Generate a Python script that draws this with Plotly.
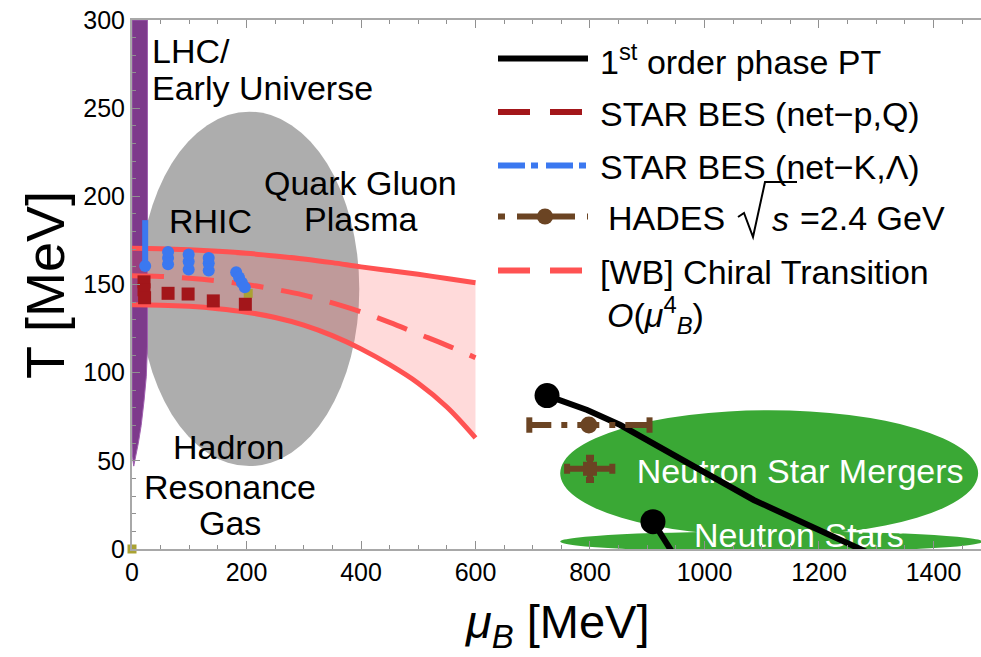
import plotly.graph_objects as go

# ---------------- data ----------------
# WB chiral transition band (muB in MeV, T in MeV)
wb_mu = [0, 50, 100, 150, 200, 250, 300, 350, 400, 450, 500, 550, 600]
wb_upper = [170.5, 170.3, 169.7, 168.8, 167.7, 166.2, 164.5, 162.4, 160.0, 157.9, 155.8, 153.4, 151.0]
wb_center = [155.0, 154.6, 153.5, 152.0, 150.0, 147.3, 144.0, 139.6, 134.5, 128.5, 122.0, 115.5, 108.5]
wb_lower = [138.5, 138.3, 137.6, 136.3, 134.3, 131.3, 127.0, 121.0, 113.5, 104.5, 94.0, 80.5, 63.0]

# LHC / early universe strip outline
lhc_mu = [0, 27, 27, 25, 21, 16, 11, 6, 3, 1, 0, 0]
lhc_T = [300, 300, 115, 98, 84, 70, 60, 52, 47, 52, 60, 300]

# regions (ellipses): [mu_min, mu_max, T_min, T_max]
qgp_ellipse = [13, 397, 47, 248]
nsm_ellipse = [748, 1478, 7.3, 78.7]
ns_ellipse = [748, 1485, -1.6, 10]

# region labels drawn inside the neutron-star ellipses (muB, T)
ns_labels = ["Neutron Star Mergers", "Neutron Stars"]
ns_label_mu = [1167, 1165]
ns_label_T = [42.5, 6.2]

# STAR BES (net-p, Q)
netp_mu = [21, 21, 22, 63, 98, 142, 198]
netp_T = [151.5, 147.0, 142.5, 145.0, 144.6, 140.7, 138.8]

# STAR BES (net-K, Lambda)
netk_mu = [23, 63, 63, 63, 99, 99, 99, 134, 134, 134, 182, 187, 192, 197]
netk_T = [160.5, 161.5, 165.0, 168.5, 158.5, 163.0, 167.0, 158.0, 162.0, 165.0, 157.0, 154.0, 151.0, 148.5]
netk_errp = [26, 0, 0, 0, 0, 0, 0, 0, 0, 0, 0, 0, 0, 0]

# other points (olive)
olive_mu = [0, 203]
olive_T = [0, 145]

# HADES sqrt(s)=2.4 GeV
hades_mu = [798, 800]
hades_T = [70.3, 45.5]
hades_mu_lo = [694, 760]
hades_mu_hi = [904, 839]
hades_T_err = [0, 6.3]

# 1st order phase transition lines
pt1_mu = [725, 795, 853, 958, 1086, 1200, 1285]
pt1_T = [87.0, 78.8, 70.3, 51.4, 27.8, 10.8, -2.0]
pt2_mu = [910, 944]
pt2_T = [15.5, -2.0]

# axis ticks
x_ticks = [0, 200, 400, 600, 800, 1000, 1200, 1400]
y_ticks = [0, 50, 100, 150, 200, 250, 300]

legend_labels = [
    "1<sup>st</sup> order phase PT",
    "STAR BES (net\u2212p,Q)",
    "STAR BES (net\u2212K,\u039b)",
    "HADES",
    "[WB] Chiral Transition",
]

# ---------------- styles ----------------
FONT = "Liberation Sans, Arial, sans-serif"
RED = "#ff5252"
DARKRED = "#a3161a"
BLUE = "#3b78f0"
BROWN = "#6b4423"
GREEN = "#3aa835"
PURPLE = "#7d3a8b"
GRAY = "#adadad"
OLIVE = "#aaa233"
TS = 34  # label font size

W, H = 981, 657
L, R, T, B = 132, 0, 20, 108
PW, PH = W - L - R, H - T - B


def px(xp):
    return (xp - L) / PW


def py(yp):
    return (H - B - yp) / PH


fig = go.Figure()

# LHC strip
fig.add_trace(go.Scatter(x=lhc_mu, y=lhc_T, fill="toself", mode="lines",
                         line=dict(color="#a060b0", width=1), fillcolor=PURPLE,
                         hoverinfo="skip", showlegend=False))

shapes = []
for ell, col in [(qgp_ellipse, GRAY), (nsm_ellipse, GREEN), (ns_ellipse, GREEN)]:
    shapes.append(dict(type="circle", xref="x", yref="y", x0=ell[0], x1=ell[1],
                       y0=ell[2], y1=ell[3], fillcolor=col, line=dict(width=0),
                       layer="below"))

# white region labels (drawn under the data lines, as in the reference)
fig.add_trace(go.Scatter(x=ns_label_mu, y=ns_label_T, mode="text", text=ns_labels,
                         textposition="middle center",
                         textfont=dict(family=FONT, size=TS, color="white"),
                         cliponaxis=False, hoverinfo="skip", showlegend=False))

# WB band fill
fig.add_trace(go.Scatter(x=wb_mu, y=wb_lower, mode="lines", line=dict(width=0, shape="spline"),
                         hoverinfo="skip", showlegend=False))
fig.add_trace(go.Scatter(x=wb_mu, y=wb_upper, mode="lines", line=dict(width=0, shape="spline"),
                         fill="tonexty", fillcolor="rgba(255,85,85,0.22)",
                         hoverinfo="skip", showlegend=False))
for arr, dash in [(wb_upper, "solid"), (wb_lower, "solid"), (wb_center, "32px,18px")]:
    fig.add_trace(go.Scatter(x=wb_mu, y=arr, mode="lines",
                             line=dict(color=RED, width=5, dash=dash, shape="spline"),
                             hoverinfo="skip", showlegend=False))

# olive points
fig.add_trace(go.Scatter(x=olive_mu, y=olive_T, mode="markers",
                         marker=dict(symbol="square", size=9, color=OLIVE),
                         cliponaxis=False, showlegend=False))

# net-K Lambda
fig.add_trace(go.Scatter(x=netk_mu, y=netk_T, mode="markers",
                         marker=dict(symbol="circle", size=12, color=BLUE),
                         error_y=dict(type="data", symmetric=False, array=netk_errp,
                                      arrayminus=[0] * len(netk_errp), color=BLUE,
                                      thickness=6, width=0),
                         showlegend=False))

# net-p Q
fig.add_trace(go.Scatter(x=netp_mu, y=netp_T, mode="markers",
                         marker=dict(symbol="square", size=13, color=DARKRED),
                         showlegend=False))

# 1st order PT lines
fig.add_trace(go.Scatter(x=pt1_mu, y=pt1_T, mode="lines", line=dict(color="black", width=6),
                         showlegend=False))
fig.add_trace(go.Scatter(x=pt2_mu, y=pt2_T, mode="lines", line=dict(color="black", width=6),
                         showlegend=False))
fig.add_trace(go.Scatter(x=[pt1_mu[0], pt2_mu[0]], y=[pt1_T[0], pt2_T[0]], mode="markers",
                         marker=dict(color="black", size=25), showlegend=False))

# HADES point 1: dashed horizontal error bar
fig.add_trace(go.Scatter(x=[hades_mu_lo[0], hades_mu_hi[0]], y=[hades_T[0], hades_T[0]],
                         mode="lines", line=dict(color=BROWN, width=6, dash="22px,10px,6px,10px"),
                         showlegend=False))
fig.add_trace(go.Scatter(x=[hades_mu_lo[0], hades_mu_hi[0]], y=[hades_T[0], hades_T[0]],
                         mode="markers",
                         marker=dict(symbol="line-ns", size=11, line=dict(color=BROWN, width=6)),
                         showlegend=False))
fig.add_trace(go.Scatter(x=[hades_mu[0]], y=[hades_T[0]], mode="markers",
                         marker=dict(symbol="circle", size=17, color=BROWN), showlegend=False))
# HADES point 2: solid error bars
fig.add_trace(go.Scatter(x=[hades_mu[1]], y=[hades_T[1]], mode="markers",
                         marker=dict(symbol="square", size=14, color=BROWN),
                         error_x=dict(type="data", symmetric=False,
                                      array=[hades_mu_hi[1] - hades_mu[1]],
                                      arrayminus=[hades_mu[1] - hades_mu_lo[1]],
                                      color=BROWN, thickness=6, width=5),
                         error_y=dict(type="data", array=[hades_T_err[1]], color=BROWN,
                                      thickness=6, width=4),
                         showlegend=False))

# ---------------- labels ----------------
ann = []


def txt(xp, yp, s, size=TS, color="black", xanchor="center", textangle=0):
    ann.append(dict(x=px(xp), y=py(yp), xref="paper", yref="paper", text=s, showarrow=False,
                    font=dict(family=FONT, size=size, color=color), align="left",
                    xanchor=xanchor, yanchor="middle", textangle=textangle))


txt(150, 51, "LHC/", xanchor="left")
txt(150, 88, "Early Universe", xanchor="left")
txt(210, 221, "RHIC")
txt(360, 183, "Quark Gluon")
txt(360, 219, "Plasma")
txt(229, 447, "Hadron")
txt(230, 487, "Resonance")
txt(230, 523, "Gas")

# ---------------- legend (drawn manually) ----------------
leg_rows_y = [58.5, 112, 165.5, 216.5, 270.5]
leg_x0, leg_x1 = 498, 588
leg_styles = [
    dict(color="black", dash="solid"),
    dict(color=DARKRED, dash="32px,20px"),
    dict(color=BLUE, dash="27px,6px,7px,8px"),
    dict(color=BROWN, dash="7px,12px,58px,12px"),
    dict(color=RED, dash="32px,20px"),
]
for yy, st in zip(leg_rows_y, leg_styles):
    shapes.append(dict(type="line", xref="paper", yref="paper", x0=px(leg_x0), x1=px(leg_x1),
                       y0=py(yy), y1=py(yy), line=dict(color=st["color"], width=6, dash=st["dash"])))
# HADES legend marker
shapes.append(dict(type="circle", xref="paper", yref="paper", xsizemode="pixel", ysizemode="pixel",
                   xanchor=px(545), yanchor=py(leg_rows_y[3]), x0=-8, x1=8, y0=-8, y1=8,
                   fillcolor=BROWN, line=dict(width=0)))

leg_text_x = [598, 598, 598, 606, 598]
for xx, yy, lab in zip(leg_text_x, leg_rows_y, legend_labels):
    txt(xx, yy + 1.5, lab, xanchor="left")
# sqrt(s) = 2.4 GeV with a drawn radical sign
shapes.append(dict(type="path", xref="paper", yref="paper",
                   path="M {},{} L {},{} L {},{} L {},{} L {},{}".format(
                       px(738), py(217), px(744), py(213), px(753), py(237),
                       px(765), py(182), px(797), py(182)),
                   line=dict(color="black", width=2)))
txt(780, 219, "<i>s</i>")
txt(798, 218, "=2.4 GeV", xanchor="left")
txt(605, 315, "<i>O</i>(<i>\u03bc</i><sup>4</sup><sub><i>B</i></sub>)", xanchor="left")

# axis titles
txt(557, 625, "<i>\u03bc</i><sub><i>B</i></sub> [MeV]", size=47)
txt(45, 285, "T [MeV]", size=54, textangle=-90)

fig.update_layout(
    width=W, height=H, margin=dict(l=L, r=R, t=T, b=B),
    paper_bgcolor="white", plot_bgcolor="white",
    shapes=shapes, annotations=ann, showlegend=False,
    font=dict(family=FONT, size=24, color="black"),
    xaxis=dict(range=[0, 1483], tickvals=x_ticks, ticks="inside", ticklen=8, tickwidth=1,
               tickcolor="#909090", showline=True, linecolor="#a8a8a8", linewidth=2,
               mirror="allticks", showgrid=False, zeroline=False,
               minor=dict(dtick=50, ticks="inside", ticklen=4, tickcolor="#909090"),
               tickfont=dict(size=25, family=FONT)),
    yaxis=dict(range=[0, 300], tickvals=y_ticks, ticks="inside", ticklen=8, tickwidth=1,
               tickcolor="#909090", showline=True, linecolor="#a8a8a8", linewidth=2,
               mirror=False, showgrid=False, zeroline=False,
               minor=dict(dtick=10, ticks="inside", ticklen=4, tickcolor="#909090"),
               tickfont=dict(size=25, family=FONT)),
)

fig.write_html("out.html")
